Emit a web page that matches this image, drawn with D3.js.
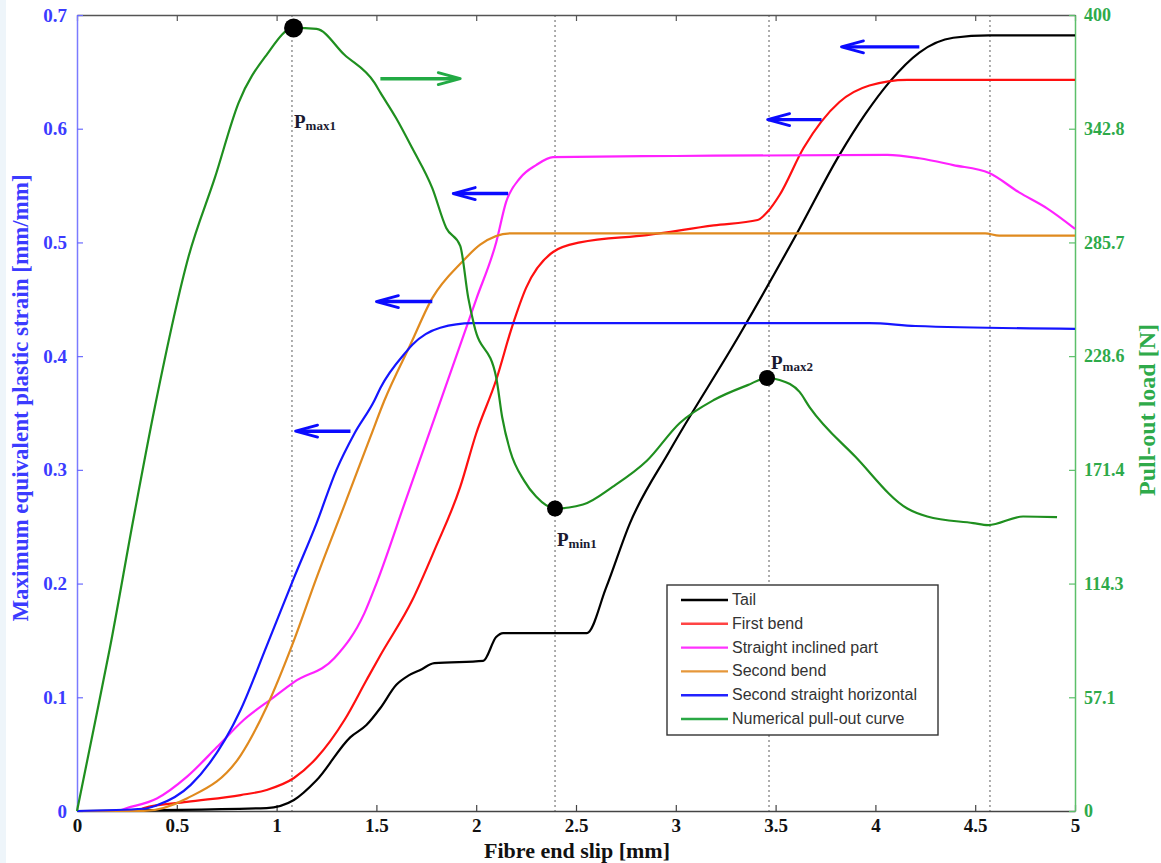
<!DOCTYPE html>
<html><head><meta charset="utf-8">
<script src="https://cdn.jsdelivr.net/npm/d3@7"></script>
<style>body{margin:0;background:#fff}svg{display:block}</style>
</head><body>
<svg id="c" width="1161" height="863"></svg>
<script>
// ---- data ----
const xTicks = [0,0.5,1,1.5,2,2.5,3,3.5,4,4.5,5];
const xTickLabels = ["0","0.5","1","1.5","2","2.5","3","3.5","4","4.5","5"];
const leftTicks = [0,0.1,0.2,0.3,0.4,0.5,0.6,0.7];
const leftTickLabels = ["0","0.1","0.2","0.3","0.4","0.5","0.6","0.7"];
const rightTicks = [0,400/7,800/7,1200/7,1600/7,2000/7,2400/7,400];
const rightTickLabels = ["0","57.1","114.3","171.4","228.6","285.7","342.8","400"];
const guideSlips = [1.077,2.395,3.467,4.574];

const tail = [[0,0],[0.95,0.0026],[1.087,0.0097],[1.2,0.027],[1.37,0.065],[1.45,0.0756],[1.52,0.0906],[1.60,0.111],[1.66,0.119],[1.72,0.124],[1.79,0.130],[2.035,0.132],[2.10,0.153],[2.135,0.1565],[2.555,0.1565],[2.65,0.196],[2.77,0.253],[2.97,0.317],[3.32,0.419],[3.61,0.509],[3.82,0.577],[3.95,0.613],[4.07,0.641],[4.22,0.667],[4.39,0.680],[4.57,0.682],[5,0.682]];
const firstBend = [[0,0],[0.3,0],[0.335,0.0026],[0.55,0.008],[0.82,0.014],[0.95,0.0185],[1.087,0.029],[1.20,0.0466],[1.34,0.080],[1.45,0.115],[1.52,0.137],[1.68,0.1855],[1.79,0.229],[1.92,0.285],[2.0,0.332],[2.10,0.379],[2.18,0.426],[2.25,0.46],[2.385,0.4916],[2.52,0.500],[2.855,0.5065],[3.19,0.515],[3.41,0.5197],[3.46,0.527],[3.52,0.5417],[3.64,0.583],[3.82,0.6235],[3.97,0.638],[4.16,0.643],[5,0.643]];
const inclined = [[0,0],[0.2,0],[0.25,0.0026],[0.40,0.011],[0.55,0.030],[0.70,0.056],[0.835,0.080],[0.985,0.100],[1.087,0.1134],[1.29,0.1345],[1.44,0.174],[1.50,0.200],[1.65,0.275],[1.92,0.41],[2.0,0.45],[2.10,0.50],[2.15,0.5356],[2.22,0.5567],[2.30,0.568],[2.385,0.575],[3.0,0.576],[4.06,0.577],[4.22,0.574],[4.39,0.568],[4.57,0.561],[4.72,0.544],[4.86,0.530],[5,0.512]];
const secondBend = [[0,0],[0.335,0],[0.55,0.011],[0.82,0.049],[0.95,0.0915],[1.087,0.150],[1.2,0.205],[1.34,0.269],[1.47,0.329],[1.54,0.361],[1.67,0.41],[1.78,0.451],[1.93,0.483],[2.02,0.498],[2.17,0.508],[4.55,0.508],[4.62,0.506],[5,0.506]];
const horizontal = [[0,0],[0.335,0.002],[0.40,0.005],[0.57,0.023],[0.82,0.089],[0.95,0.145],[1.087,0.205],[1.2,0.253],[1.30,0.300],[1.39,0.332],[1.49,0.361],[1.52,0.372],[1.65,0.404],[1.68,0.41],[1.82,0.425],[1.98,0.429],[3.97,0.429],[4.2,0.4265],[5,0.424]];
const pullout = [[0,0],[0.085,42],[0.165,82],[0.285,148],[0.39,203],[0.56,279],[0.69,318],[0.81,356],[0.95,380],[1.085,393.5],[1.20,393],[1.34,380],[1.49,366],[1.52,361],[1.60,348],[1.68,333],[1.78,313],[1.85,293],[1.92,284],[1.96,258],[1.99,244],[2.10,218],[2.13,198],[2.17,181],[2.24,166],[2.30,158],[2.395,152],[2.535,154],[2.685,163],[2.855,176],[3.02,195],[3.19,206.5],[3.36,214],[3.457,217.6],[3.52,216.6],[3.62,210.6],[3.67,203],[3.9,178],[4.16,152],[4.26,148],[4.49,144.7],[4.565,143.7],[4.74,148],[4.91,147.7]];
const keyPoints = [{name:"max1", x:1.085, y:393.5, r:9.5}, {name:"min1", x:2.395, y:152, r:8}, {name:"max2", x:3.457, y:217.6, r:8}];
const legendNames = ["Tail","First bend","Straight inclined part","Second bend","Second straight horizontal","Numerical pull-out curve"];
const arrows = [
  {x0:1.37,x1:1.095,y:0.334,c:"#0b0bff"},
  {x0:1.78,x1:1.50,y:0.448,c:"#0b0bff"},
  {x0:2.16,x1:1.885,y:0.543,c:"#0b0bff"},
  {x0:3.73,x1:3.46,y:0.608,c:"#0b0bff"},
  {x0:4.22,x1:3.83,y:0.672,c:"#0b0bff"},
  {x0:1.52,x1:1.92,y:0.644,c:"#22aa44"}
];

// ---- layout ----
const L=77,R=1075,T=15,B=811;
const svg=d3.select("#c");
const x=d3.scaleLinear().domain([0,5]).range([L,R]);
const yL=d3.scaleLinear().domain([0,0.7]).range([B,T]);
const yR=d3.scaleLinear().domain([0,400]).range([B,T]);
const serif="'Liberation Serif','Times New Roman',serif";
const sans="'Liberation Sans',Arial,sans-serif";

svg.append("rect").attr("x",0).attr("y",0).attr("width",6).attr("height",863).attr("fill","#eef5fa");

svg.append("g").selectAll("line").data(guideSlips).join("line")
  .attr("x1",d=>x(d)).attr("x2",d=>x(d)).attr("y1",T).attr("y2",B)
  .attr("stroke","#9a9a9a").attr("stroke-width",1.6).attr("stroke-dasharray","2,3");

const gB=svg.append("g").attr("transform",`translate(0,${B})`)
  .call(d3.axisBottom(x).tickValues(xTicks).tickFormat((d,i)=>xTickLabels[i]).tickSizeInner(-6).tickSizeOuter(0).tickPadding(8));
gB.select(".domain").attr("stroke","#444").attr("stroke-width",1.5);
gB.selectAll(".tick line").attr("stroke","#444").attr("stroke-width",1.2);
gB.selectAll("text").attr("font-family",serif).attr("font-weight","bold").attr("font-size",19).attr("fill","#111");

const gT=svg.append("g").attr("transform",`translate(0,${T})`)
  .call(d3.axisTop(x).tickValues(xTicks).tickFormat("").tickSizeInner(-6).tickSizeOuter(0));
gT.select(".domain").attr("stroke","#555").attr("stroke-width",1.5);
gT.selectAll(".tick line").attr("stroke","#555").attr("stroke-width",1.2);

const gLft=svg.append("g").attr("transform",`translate(${L},0)`)
  .call(d3.axisLeft(yL).tickValues(leftTicks).tickFormat((d,i)=>leftTickLabels[i]).tickSizeInner(-6).tickSizeOuter(0).tickPadding(10));
gLft.select(".domain").attr("stroke","#7b7bff").attr("stroke-width",1.5);
gLft.selectAll(".tick line").attr("stroke","#6a6aff").attr("stroke-width",1.2);
gLft.selectAll("text").attr("font-family",serif).attr("font-weight","bold").attr("font-size",19).attr("fill","#3b3bff");

const gRt=svg.append("g").attr("transform",`translate(${R},0)`)
  .call(d3.axisRight(yR).tickValues(rightTicks).tickFormat((d,i)=>rightTickLabels[i]).tickSizeInner(-6).tickSizeOuter(0).tickPadding(9));
gRt.select(".domain").attr("stroke","#5cbf6a").attr("stroke-width",1.5);
gRt.selectAll(".tick line").attr("stroke","#5cbf6a").attr("stroke-width",1.2);
gRt.selectAll("text").attr("font-family",serif).attr("font-weight","bold").attr("font-size",18).attr("fill","#2eaa4a");

svg.append("text").attr("x",577).attr("y",858).attr("text-anchor","middle")
  .attr("font-family",serif).attr("font-weight","bold").attr("font-size",22).attr("fill","#111").text("Fibre end slip [mm]");
svg.append("text").attr("transform",`translate(28,398) rotate(-90)`).attr("text-anchor","middle")
  .attr("font-family",serif).attr("font-weight","bold").attr("font-size",23).attr("fill","#3b3bff").text("Maximum equivalent plastic strain [mm/mm]");
svg.append("text").attr("transform",`translate(1155,410) rotate(-90)`).attr("text-anchor","middle")
  .attr("font-family",serif).attr("font-weight","bold").attr("font-size",24).attr("fill","#2eaa4a").text("Pull-out load [N]");

const mc=d3.curveMonotoneX;
const lineL=d3.line().x(d=>x(d[0])).y(d=>yL(d[1])).curve(mc);
const lineR=d3.line().x(d=>x(d[0])).y(d=>yR(d[1])).curve(mc);
const series=[
  {d:tail,c:"#000000",f:lineL},
  {d:firstBend,c:"#ff1010",f:lineL},
  {d:inclined,c:"#ff22ff",f:lineL},
  {d:secondBend,c:"#e08a1e",f:lineL},
  {d:horizontal,c:"#1515ff",f:lineL},
  {d:pullout,c:"#1f8f1f",f:lineR}
];
const legendColors=["#000000","#ff4444","#ff33ff","#e6973a","#2222ff","#2aa845"];
svg.append("g").selectAll("path").data(series).join("path")
  .attr("d",s=>s.f(s.d)).attr("fill","none").attr("stroke",s=>s.c).attr("stroke-width",2.2).attr("stroke-linejoin","round");

const ag=svg.append("g");
arrows.forEach(a=>{
  const X0=x(a.x0),X1=x(a.x1),Y=yL(a.y),dir=Math.sign(X1-X0);
  ag.append("line").attr("x1",X0).attr("x2",X1-dir*4).attr("y1",Y).attr("y2",Y).attr("stroke",a.c).attr("stroke-width",3.4);
  ag.append("path").attr("d",`M${X1},${Y} L${X1-dir*22},${Y-6} M${X1},${Y} L${X1-dir*22},${Y+6}`)
    .attr("stroke",a.c).attr("stroke-width",2.8).attr("fill","none").attr("stroke-linecap","round");
});

svg.append("g").selectAll("circle").data(keyPoints).join("circle")
  .attr("cx",d=>x(d.x)).attr("cy",d=>yR(d.y)).attr("r",d=>d.r).attr("fill","#000");
const labPos={max1:[294,128],min1:[557,546],max2:[771,369]};
keyPoints.forEach(k=>{
  const t=svg.append("text").attr("x",labPos[k.name][0]).attr("y",labPos[k.name][1])
    .attr("font-family",serif).attr("font-weight","bold").attr("fill","#1a1a30");
  t.append("tspan").attr("font-size",19).text("P");
  t.append("tspan").attr("font-size",13).attr("dy",2).text(k.name);
});

const lg=svg.append("g");
lg.append("rect").attr("x",667).attr("y",585).attr("width",271).attr("height",150)
  .attr("fill","#fff").attr("stroke","#333").attr("stroke-width",1.4);
legendNames.forEach((n,i)=>{
  const yy=600+i*23.8;
  lg.append("line").attr("x1",681).attr("x2",728).attr("y1",yy).attr("y2",yy).attr("stroke",legendColors[i]).attr("stroke-width",2.4);
  lg.append("text").attr("x",732).attr("y",yy+5).attr("font-family",sans).attr("font-size",16).attr("fill","#333").text(n);
});
</script>
</body></html>
